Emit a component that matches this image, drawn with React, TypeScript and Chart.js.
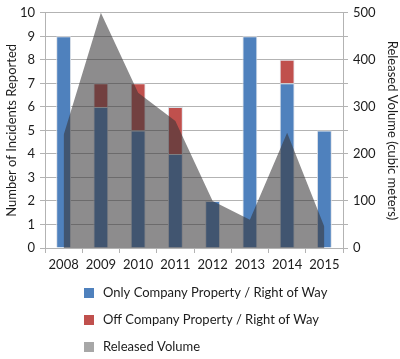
import React, { useEffect, useRef } from "react";
import { Chart, registerables } from "chart.js";

Chart.register(...registerables);

const years = ["2008", "2009", "2010", "2011", "2012", "2013", "2014", "2015"];
const onlyCompany = [9, 6, 5, 4, 2, 9, 7, 5];
const offCompany = [0, 1, 2, 2, 0, 0, 1, 0];
const releasedVolume = [240, 500, 330, 270, 100, 60, 245, 45];

const seriesLabels = [
  "Only Company Property / Right of Way",
  "Off Company Property / Right of Way",
  "Released Volume",
];
const leftTitle = "Number of Incidents Reported";
const rightTitle = "Released Volume (cubic meters)";

const BLUE = "#4f81bd";
const RED = "#c0504d";
const AREA = "rgba(55,53,54,0.57)";
const LEGEND_COLORS = [BLUE, RED, "#a7a7a7"];
const FONT = "Lato, 'Open Sans', sans-serif";
const TEXT = "#1c1c1c";
const GRID = "#b3b3b3";

const legendPlugin = {
  id: "stackedLegend",
  afterDraw(chart: any) {
    const ctx = chart.ctx;
    ctx.save();
    ctx.font = `13px ${FONT}`;
    ctx.textBaseline = "middle";
    ctx.textAlign = "left";
    const ys = [293, 320, 347];
    seriesLabels.forEach((label, i) => {
      const y = ys[i];
      ctx.fillStyle = LEGEND_COLORS[i];
      ctx.fillRect(84, y - 5, 10, 10);
      ctx.fillStyle = TEXT;
      ctx.fillText(label, 103, y);
    });
    ctx.restore();
  },
};

export default function App() {
  const canvasRef = useRef<HTMLCanvasElement | null>(null);

  useEffect(() => {
    if (!canvasRef.current) return;
    const chart = new Chart(canvasRef.current, {
      type: "bar",
      data: {
        labels: years,
        datasets: [
          {
            type: "bar",
            label: seriesLabels[0],
            data: onlyCompany,
            backgroundColor: BLUE,
            borderColor: "#dde1e8",
            borderWidth: 1,
            yAxisID: "y",
            stack: "s",
            order: 1,
            barPercentage: 0.4,
            categoryPercentage: 1,
          },
          {
            type: "bar",
            label: seriesLabels[1],
            data: offCompany,
            backgroundColor: RED,
            borderColor: "#dde1e8",
            borderWidth: 1,
            yAxisID: "y",
            stack: "s",
            order: 1,
            barPercentage: 0.4,
            categoryPercentage: 1,
          },
          {
            type: "line",
            label: seriesLabels[2],
            data: releasedVolume,
            backgroundColor: AREA,
            borderWidth: 0,
            borderColor: "rgba(0,0,0,0)",
            pointRadius: 0,
            fill: "origin",
            tension: 0,
            yAxisID: "y1",
            order: 0,
          },
        ],
      },
      options: {
        animation: false,
        responsive: true,
        maintainAspectRatio: false,
        layout: { padding: { top: 8, bottom: 85, left: 0, right: 0 } },
        plugins: {
          legend: { display: false },
          tooltip: { enabled: false },
        },
        scales: {
          x: {
            stacked: true,
            offset: true,
            grid: {
              drawOnChartArea: false,
              drawTicks: true,
              tickLength: 5,
              color: GRID,
              offset: true,
            },
            border: { color: GRID },
            ticks: { color: TEXT, font: { family: FONT, size: 13 }, padding: 4, maxRotation: 0 },
            afterFit(scale: any) {
              scale.height = 26;
            },
          },
          y: {
            stacked: true,
            position: "left",
            min: 0,
            max: 10,
            ticks: { stepSize: 1, color: TEXT, font: { family: FONT, size: 13 }, padding: 5 },
            grid: { color: GRID, tickLength: 5 },
            border: { color: GRID },
            title: {
              display: true,
              text: leftTitle,
              color: TEXT,
              font: { family: FONT, size: 13 },
              padding: { top: 4, bottom: 0 },
            },
            afterFit(scale: any) {
              scale.width = 45;
            },
          },
          y1: {
            position: "right",
            min: 0,
            max: 500,
            ticks: {
              stepSize: 50,
              color: TEXT,
              font: { family: FONT, size: 13 },
              padding: 5,
              callback: (v: any) => (Number(v) % 100 === 0 ? String(v) : ""),
            },
            grid: { drawOnChartArea: false, color: GRID, tickLength: 5 },
            border: { color: GRID },
            title: {
              display: true,
              text: rightTitle,
              color: TEXT,
              font: { family: FONT, size: 13 },
              padding: { top: 0, bottom: 0 },
            },
            afterFit(scale: any) {
              scale.width = 57;
            },
          },
        },
      },
      plugins: [legendPlugin],
    });
    return () => chart.destroy();
  }, []);

  return (
    <div style={{ position: "fixed", left: 0, top: 0, width: 400, height: 359, background: "#fff" }}>
      <canvas ref={canvasRef} />
    </div>
  );
}
